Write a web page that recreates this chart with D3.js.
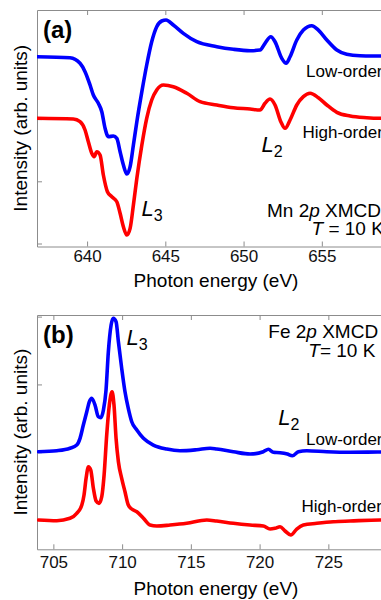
<!DOCTYPE html>
<html>
<head>
<meta charset="utf-8">
<script src="https://cdn.jsdelivr.net/npm/d3@7"></script>
<style>
  body { margin: 0; background: #fff; }
  svg { display: block; }
</style>
</head>
<body>
<svg id="chart" width="381" height="600"></svg>
<script>
/* Mn 2p XMCD, [photon energy (eV), intensity (arb. units)] */
const mnLowOrder = [
  [636.81, 3.003], [638.91, 2.987], [639.55, 2.897], [639.87, 2.762], [640.19, 2.548],
  [640.40, 2.387], [640.72, 2.254], [640.94, 2.119], [641.15, 1.852], [641.36, 1.717],
  [641.68, 1.728], [641.90, 1.691], [642.11, 1.476], [642.32, 1.262], [642.54, 1.117],
  [642.75, 1.235], [642.96, 1.584], [643.18, 1.958], [643.50, 2.441], [643.81, 2.870],
  [644.13, 3.244], [644.45, 3.486], [644.77, 3.577], [645.05, 3.593], [645.51, 3.513],
  [646.15, 3.379], [647.01, 3.244], [648.29, 3.164], [649.35, 3.122], [650.42, 3.100],
  [651.05, 3.111], [651.37, 3.219], [651.74, 3.325], [652.01, 3.244], [652.44, 2.977],
  [652.72, 2.897], [652.97, 3.003], [653.40, 3.272], [653.82, 3.432], [654.36, 3.502],
  [654.78, 3.432], [655.32, 3.272], [655.96, 3.111], [656.59, 3.042], [657.44, 3.019],
  [658.72, 3.014], [660.00, 3.010]
]
const mnHighOrder = [
  [636.81, 2.013], [639.12, 2.002], [639.55, 1.958], [639.87, 1.825], [640.08, 1.637],
  [640.30, 1.450], [640.45, 1.395], [640.62, 1.476], [640.83, 1.423], [641.04, 1.101],
  [641.30, 0.833], [641.58, 0.752], [641.90, 0.672], [642.11, 0.486], [642.32, 0.270],
  [642.54, 0.137], [642.75, 0.244], [642.96, 0.619], [643.18, 1.048], [643.50, 1.584],
  [643.81, 2.013], [644.13, 2.307], [644.45, 2.468], [644.88, 2.548], [645.51, 2.521],
  [646.37, 2.415], [647.22, 2.280], [648.29, 2.227], [649.35, 2.183], [650.42, 2.162],
  [651.05, 2.146], [651.37, 2.254], [651.69, 2.323], [652.01, 2.227], [652.38, 1.958],
  [652.65, 1.852], [652.97, 1.986], [653.40, 2.227], [653.82, 2.360], [654.25, 2.415],
  [654.78, 2.344], [655.32, 2.227], [655.96, 2.109], [656.81, 2.050], [657.87, 2.023],
  [658.72, 2.013], [660.00, 2.010]
]

/* Fe 2p XMCD */
const feLowOrder = [
  [703.91, 1.007], [705.25, 1.022], [706.21, 1.058], [706.70, 1.106], [706.94, 1.205],
  [707.18, 1.401], [707.43, 1.597], [707.62, 1.745], [707.79, 1.795], [708.03, 1.696],
  [708.27, 1.524], [708.45, 1.509], [708.64, 1.622], [708.83, 1.917], [709.00, 2.482],
  [709.20, 2.876], [709.36, 2.975], [709.56, 2.925], [709.73, 2.630], [709.97, 2.237],
  [710.21, 1.892], [710.45, 1.647], [710.70, 1.450], [711.07, 1.327], [711.55, 1.205],
  [712.27, 1.106], [713.25, 1.047], [714.21, 1.022], [715.43, 1.037], [716.40, 1.058],
  [716.88, 1.047], [718.09, 1.007], [719.31, 0.973], [720.27, 1.007], [720.64, 1.043],
  [721.00, 0.999], [721.49, 0.993], [722.02, 0.973], [722.38, 0.948], [722.82, 1.007],
  [723.43, 1.022], [724.88, 1.007], [726.58, 0.999], [728.76, 1.003], [730.20, 1.003]
]
const feHighOrder = [
  [703.91, 0.000], [705.25, -0.010], [706.21, 0.025], [706.70, 0.099], [707.07, 0.221],
  [707.23, 0.369], [707.38, 0.615], [707.55, 0.786], [707.72, 0.737], [707.91, 0.468],
  [708.11, 0.280], [708.32, 0.246], [708.52, 0.344], [708.69, 0.664], [708.88, 1.254],
  [709.07, 1.696], [709.27, 1.892], [709.41, 1.696], [709.56, 1.205], [709.73, 0.860],
  [709.97, 0.615], [710.21, 0.417], [710.45, 0.221], [710.70, 0.162], [711.07, 0.122],
  [711.55, 0.025], [712.03, -0.074], [712.52, -0.088], [713.49, -0.074], [714.70, -0.049],
  [716.16, 0.000], [716.88, -0.015], [718.09, -0.049], [719.31, -0.074], [720.27, -0.088],
  [720.76, -0.133], [721.12, -0.122], [721.49, -0.099], [721.85, -0.162], [722.27, -0.221],
  [722.70, -0.133], [723.18, -0.074], [724.16, -0.049], [725.36, -0.025], [726.58, -0.015],
  [728.76, 0.000], [730.20, 0.000]
]

/* Tick values */
const mnTicks = [640, 645, 650, 655]
const feTicks = [705, 710, 715, 720, 725]
const intensityTicks = [0, 1, 2, 3]

/* Chart dimensions etc. */
const marginLeft = 37
const axisColor = "#8c8c8c"
const font = "'Liberation Sans', Arial, Helvetica, sans-serif"

const svg = d3.select("#chart")

function drawPanel(p) {
  const x = d3.scaleLinear(p.xDomain, [marginLeft, p.right])
  const y = d3.scaleLinear(p.yDomain, [p.bottom, p.top])
  const graph = svg.append("g")

  graph.append("clipPath")
  .attr("id", p.id)
  .append("rect")
  .attr("x", marginLeft)
  .attr("y", p.top)
  .attr("width", p.right - marginLeft)
  .attr("height", p.bottom - p.top)

  const styleAxis = g => {
    g.select(".domain").attr("stroke", axisColor)
    g.selectAll(".tick line").attr("stroke", axisColor)
  }

  /* bottom axis, ticks pointing in */
  graph.append("g")
  .attr("transform", `translate(0, ${p.bottom})`)
  .call(d3.axisBottom(x).tickValues(p.xTicks).tickSizeInner(-5).tickSizeOuter(0).tickPadding(p.labelPad))
  .call(styleAxis)
  .call(g => g.selectAll(".tick text")
    .attr("fill", "#111")
    .style("font", `17px ${font}`))

  /* top frame */
  graph.append("g")
  .attr("transform", `translate(0, ${p.top})`)
  .call(d3.axisTop(x).tickValues(p.xTicks).tickSizeInner(-5).tickSizeOuter(0).tickFormat(""))
  .call(styleAxis)

  /* left axis, no labels */
  graph.append("g")
  .attr("transform", `translate(${marginLeft}, 0)`)
  .call(d3.axisLeft(y).tickValues(intensityTicks).tickSizeInner(-5).tickSizeOuter(0).tickFormat(""))
  .call(styleAxis)

  const line = d3.line()
  .curve(d3.curveMonotoneX)
  .x(d => x(d[0]))
  .y(d => y(d[1]))

  graph.append("g")
  .selectAll("path")
  .data(p.series)
  .join("path")
  .attr("clip-path", `url(#${p.id})`)
  .attr("fill", "none")
  .attr("stroke", d => d.color)
  .attr("stroke-width", 3.6)
  .attr("stroke-linejoin", "round")
  .attr("stroke-linecap", "round")
  .attr("d", d => line(d.values))

  /* axis titles */
  graph.append("text")
  .attr("x", 216)
  .attr("y", p.bottom + p.titleOffset)
  .attr("text-anchor", "middle")
  .style("font", `19px ${font}`)
  .text("Photon energy (eV)")

  graph.append("text")
  .attr("transform", `translate(27, ${(p.top + p.bottom) / 2}) rotate(-90)`)
  .attr("text-anchor", "middle")
  .style("font", `19px ${font}`)
  .text("Intensity (arb. units)")

  /* panel letter */
  graph.append("text")
  .attr("x", 43)
  .attr("y", p.top + 28)
  .style("font", `bold 24px ${font}`)
  .text(p.letter)

  /* series names */
  for (let s of p.series) {
    graph.append("text")
    .attr("x", s.labelX)
    .attr("y", s.labelY)
    .style("font", `17px ${font}`)
    .text(s.name)
  }

  /* edge labels L3, L2 */
  for (let e of p.edges) {
    const t = graph.append("text")
    .attr("x", e.x)
    .attr("y", e.y)
    .style("font", `22px ${font}`)
    t.append("tspan").attr("font-style", "italic").text("L")
    t.append("tspan").attr("dy", 5).style("font-size", "16px").text(e.sub)
  }

  /* element / temperature */
  const t1 = graph.append("text")
  .attr("x", p.noteX)
  .attr("y", p.noteY)
  .style("font", `19px ${font}`)
  t1.append("tspan").text(`${p.element} 2`)
  t1.append("tspan").attr("font-style", "italic").text("p")
  t1.append("tspan").text(" XMCD")

  const t2 = graph.append("text")
  .attr("x", p.tempX)
  .attr("y", p.noteY + 18.5)
  .style("font", `19px ${font}`)
  t2.append("tspan").attr("font-style", "italic").text("T")
  t2.append("tspan").text(p.tempText)
}

drawPanel({
  id: "clip-a", letter: "(a)", element: "Mn",
  xDomain: [636.8, 660.2], right: 403.2, xTicks: mnTicks,
  yDomain: [-0.048, 3.754], top: 10, bottom: 246.5,
  labelPad: 3, titleOffset: 40,
  series: [
    { name: "Low-order", values: mnLowOrder, color: "#0000ff", labelX: 306, labelY: 77 },
    { name: "High-order", values: mnHighOrder, color: "#ff0000", labelX: 302.5, labelY: 138 }
  ],
  edges: [{ x: 141.5, y: 216, sub: "3" }, { x: 261.5, y: 151.5, sub: "2" }],
  noteX: 267, noteY: 216.5, tempX: 311.5, tempText: " = 10 K"
})

drawPanel({
  id: "clip-b", letter: "(b)", element: "Fe",
  xDomain: [703.81, 730], right: 397.1, xTicks: feTicks,
  yDomain: [-0.432, 3.024], top: 315, bottom: 549.3,
  labelPad: 7, titleOffset: 46,
  series: [
    { name: "Low-order", values: feLowOrder, color: "#0000ff", labelX: 306, labelY: 445 },
    { name: "High-order", values: feHighOrder, color: "#ff0000", labelX: 301.5, labelY: 511.5 }
  ],
  edges: [{ x: 126.5, y: 345, sub: "3" }, { x: 278.3, y: 424.5, sub: "2" }],
  noteX: 268.3, noteY: 338.3, tempX: 308.3, tempText: "= 10 K"
})
</script>
</body>
</html>
